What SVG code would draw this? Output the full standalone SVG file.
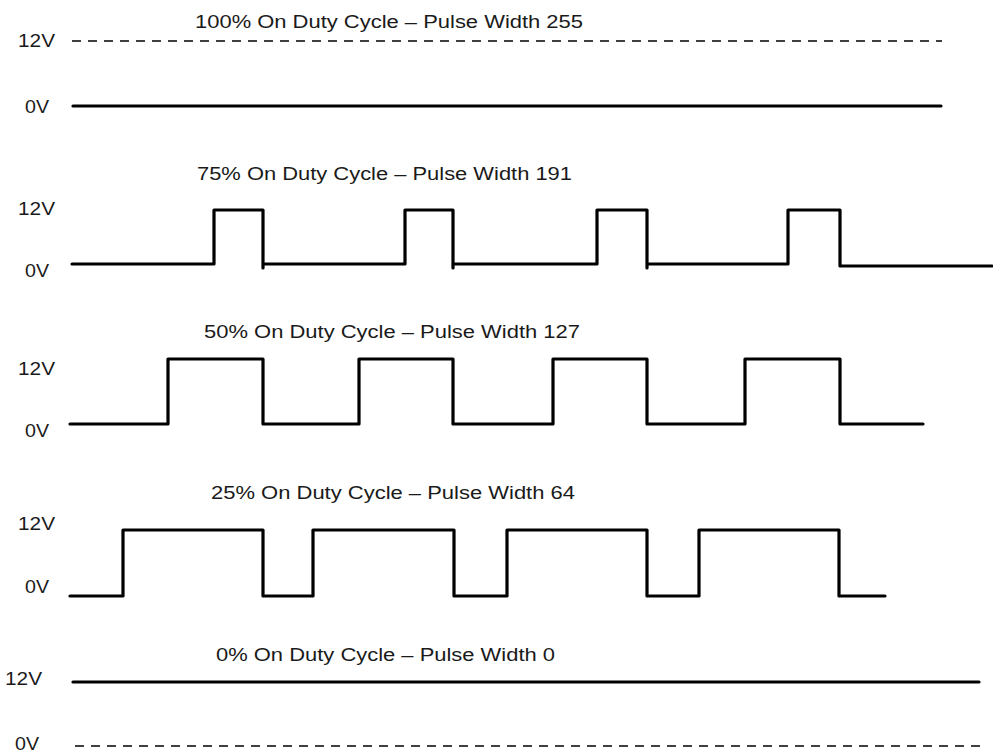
<svg xmlns="http://www.w3.org/2000/svg" width="993" height="754" viewBox="0 0 993 754">
<style>
text{font-family:"Liberation Sans",Arial,sans-serif;font-size:18px;fill:#1a1a1a}
.w{fill:none;stroke:#000;stroke-width:3.2;stroke-linejoin:round;stroke-linecap:round}
.d{fill:none;stroke:#000;stroke-width:1.5;stroke-dasharray:9 7}
</style>
<rect width="993" height="754" fill="#fff"/>
<g id="p100">
<text x="195" y="28" textLength="388" lengthAdjust="spacingAndGlyphs">100% On Duty Cycle – Pulse Width 255</text>
<text x="18" y="47" textLength="37" lengthAdjust="spacingAndGlyphs">12V</text>
<text x="25" y="113" textLength="24" lengthAdjust="spacingAndGlyphs">0V</text>
</g>
<g id="p75">
<text x="197" y="180" textLength="375" lengthAdjust="spacingAndGlyphs">75% On Duty Cycle – Pulse Width 191</text>
<text x="18" y="215" textLength="37" lengthAdjust="spacingAndGlyphs">12V</text>
<text x="25" y="277" textLength="24" lengthAdjust="spacingAndGlyphs">0V</text>
</g>
<g id="p50">
<text x="204" y="338" textLength="376" lengthAdjust="spacingAndGlyphs">50% On Duty Cycle – Pulse Width 127</text>
<text x="18" y="375" textLength="37" lengthAdjust="spacingAndGlyphs">12V</text>
<text x="25" y="437" textLength="24" lengthAdjust="spacingAndGlyphs">0V</text>
</g>
<g id="p25">
<text x="211" y="499" textLength="364" lengthAdjust="spacingAndGlyphs">25% On Duty Cycle – Pulse Width 64</text>
<text x="18" y="530" textLength="37" lengthAdjust="spacingAndGlyphs">12V</text>
<text x="25" y="593" textLength="24" lengthAdjust="spacingAndGlyphs">0V</text>
</g>
<g id="p0">
<text x="216" y="661" textLength="339" lengthAdjust="spacingAndGlyphs">0% On Duty Cycle – Pulse Width 0</text>
<text x="5" y="685" textLength="37" lengthAdjust="spacingAndGlyphs">12V</text>
<text x="15" y="750" textLength="24" lengthAdjust="spacingAndGlyphs">0V</text>
</g>
<g id="connectors">
<line class="d" x1="72" y1="41" x2="942" y2="41"/>
<line class="w" x1="73" y1="106" x2="941" y2="106"/>
<path class="w" d="M72 264H214V210H263V268M263 264H405V210H453V268M453 264H597V210H647V268M647 264H788V210H840V266H992"/>
<path class="w" d="M70 424H168V359H263V424H359V359H453V424H553V359H647V424H745V359H840V424H923"/>
<path class="w" d="M70 596H123V530H263V596H313V530H454V596H507V530H647V596H699V530H839V596H885"/>
<line class="w" x1="73" y1="682" x2="979" y2="682"/>
<line class="d" x1="75" y1="746" x2="980" y2="746"/>
</g>
</svg>
